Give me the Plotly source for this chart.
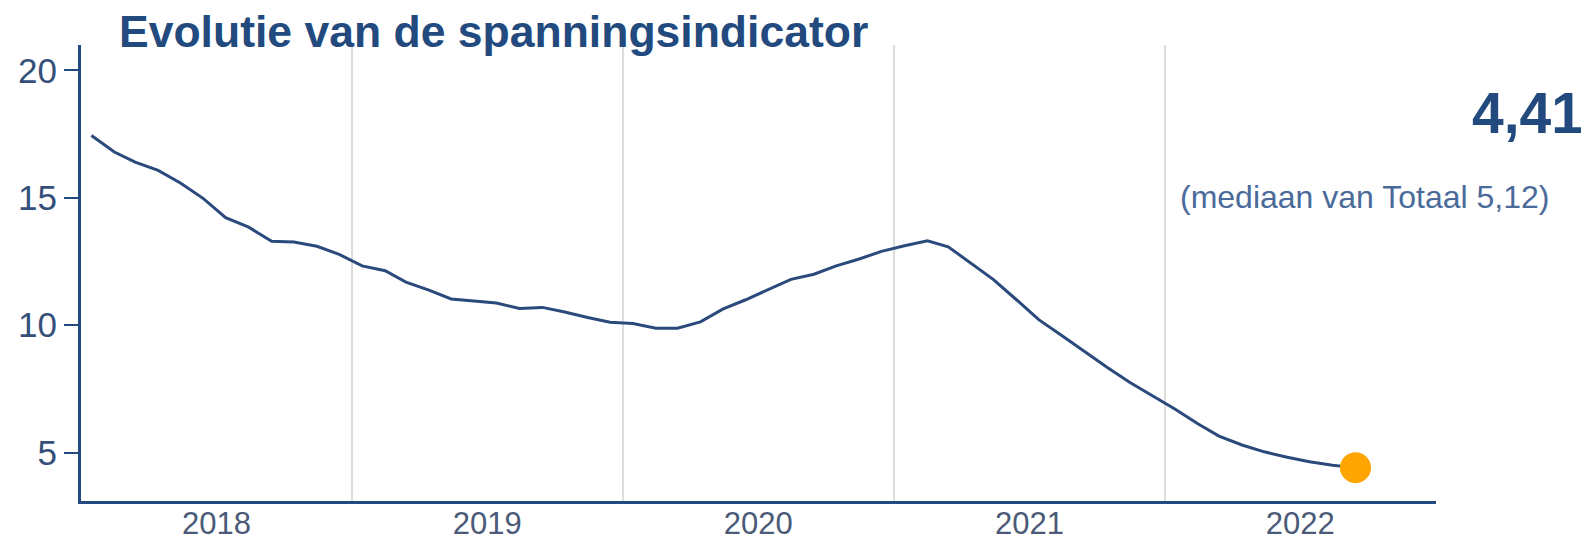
import pandas as pd
import plotly.graph_objects as go

# ---- data ----
values_2018 = [17.45, 16.80, 16.40, 16.08, 15.58, 14.97, 14.22, 13.85, 13.30, 13.27, 13.10, 12.78]
values_2019 = [12.33, 12.14, 11.69, 11.38, 11.03, 10.95, 10.87, 10.66, 10.70, 10.52, 10.30, 10.12]
values_2020 = [10.07, 9.88, 9.88, 10.13, 10.63, 11.00, 11.40, 11.80, 12.00, 12.33, 12.60, 12.90]
values_2021 = [13.12, 13.31, 13.08, 12.44, 11.79, 11.00, 10.22, 9.60, 8.95, 8.35, 7.75, 7.25]
values_2022 = [6.70, 6.12, 5.65, 5.30, 5.03, 4.82, 4.64, 4.50, 4.41]
values = values_2018 + values_2019 + values_2020 + values_2021 + values_2022
first_month = "2018-01-01"
dates = pd.date_range(first_month, periods=len(values), freq="MS") + pd.Timedelta(days=14)

title_text = "Evolutie van de spanningsindicator"
last_value_text = "4,41"
median_text = "(mediaan van Totaal 5,12)"
y_ticks = [5, 10, 15, 20]

DARK = "#224a7e"
LINE = "#2b4a7c"
ORANGE = "#FFA500"

fig = go.Figure()
fig.add_trace(go.Scatter(x=dates, y=values, mode="lines",
                         line=dict(color=LINE, width=3), hoverinfo="x+y"))
fig.add_trace(go.Scatter(x=[dates[-1]], y=[values[-1]], mode="markers",
                         marker=dict(color=ORANGE, size=31), hoverinfo="x+y"))

# the page body adds an 8px offset, so the figure is sized to fit the window
fig.update_layout(
    width=1581, height=532,
    margin=dict(l=73, r=153, t=37, b=39),
    paper_bgcolor="white", plot_bgcolor="white",
    showlegend=False,
    font=dict(family="Liberation Sans, Arial, sans-serif"),
    xaxis=dict(
        type="date", automargin=False,
        range=["2018-01-01", "2023-01-01 12:00"],
        tick0="2018-01-01", dtick="M12", tickformat="%Y",
        ticklabelmode="period",
        ticklabelstandoff=-7,
        showgrid=True, gridcolor="#dddddd", gridwidth=2,
        showline=True, linecolor=DARK, linewidth=3,
        ticks="", tickfont=dict(size=31, color="#4a5a78"),
        zeroline=False,
    ),
    yaxis=dict(
        automargin=False,
        range=[3.1, 21.0],
        tickvals=y_ticks,
        showgrid=False, zeroline=False,
        showline=True, linecolor=DARK, linewidth=3,
        ticks="outside", ticklen=14, tickwidth=2, tickcolor=DARK,
        tickfont=dict(size=35, color="#34507a"),
    ),
    annotations=[
        dict(text="<b>" + title_text + "</b>", xref="paper", yref="paper",
             x=0.0266, y=1.03, xanchor="left", yanchor="middle",
             showarrow=False, font=dict(size=44.5, color=DARK)),
        dict(text="<b>" + last_value_text + "</b>", xref="paper", yref="paper",
             x=1.1100, y=0.85, xanchor="right", yanchor="middle",
             showarrow=False, font=dict(size=57, color=DARK)),
        dict(text=median_text, xref="paper", yref="paper",
             x=0.9469, y=0.6667, xanchor="center", yanchor="middle",
             showarrow=False, font=dict(size=32, color="#4a6a9a")),
    ],
)

fig.write_html("out.html")
